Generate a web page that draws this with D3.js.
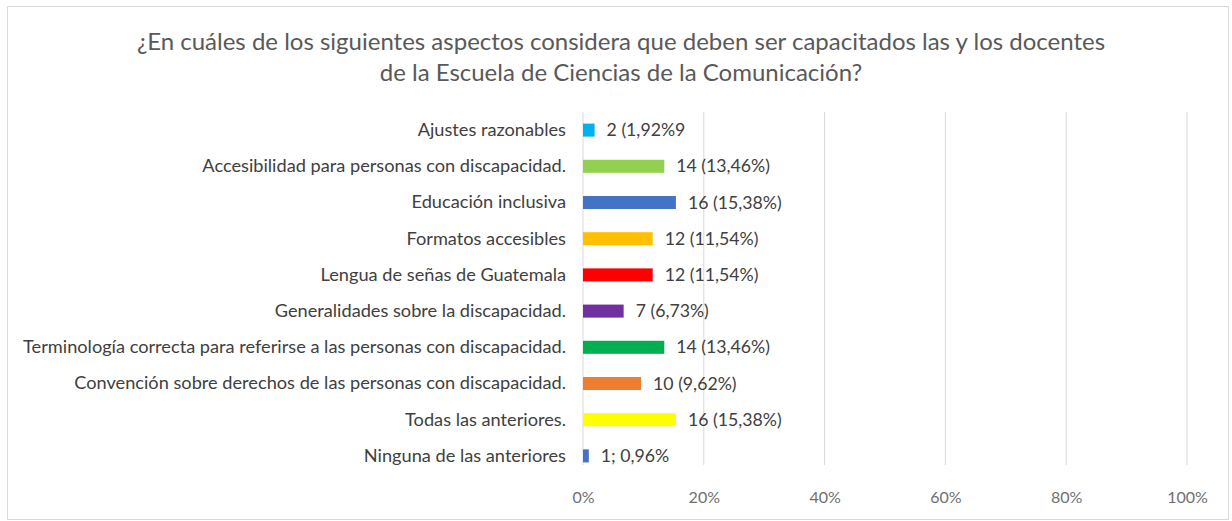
<!DOCTYPE html>
<html><head><meta charset="utf-8">
<script src="https://cdn.jsdelivr.net/npm/d3@7"></script>
<style>body{margin:0;background:#fff;} svg{display:block;font-family:Lato,"Open Sans",sans-serif;}</style>
</head><body>
<svg id="c" width="1232" height="521"></svg>
<script>
const categories = ["Ajustes razonables","Accesibilidad para personas con discapacidad.","Educación inclusiva","Formatos accesibles","Lengua de señas de Guatemala","Generalidades sobre la discapacidad.","Terminología correcta para referirse a las personas con discapacidad.","Convención sobre derechos de las personas con discapacidad.","Todas las anteriores.","Ninguna de las anteriores"];
const counts = [2,14,16,12,12,7,14,10,16,1];
const percents = [1.92,13.46,15.38,11.54,11.54,6.73,13.46,9.62,15.38,0.96];
const valueLabels = ["2 (1,92%9","14 (13,46%)","16 (15,38%)","12 (11,54%)","12 (11,54%)","7 (6,73%)","14 (13,46%)","10 (9,62%)","16 (15,38%)","1; 0,96%"];
const colors = ["#00B0F0","#92D050","#4472C4","#FFC000","#FF0000","#7030A0","#00B050","#ED7D31","#FFFF00","#4472C4"];
const tickValues = [0,20,40,60,80,100];
const titleLines = ["¿En cuáles de los siguientes aspectos considera que deben ser capacitados las y los docentes","de la Escuela de Ciencias de la Comunicación?"];

const svg = d3.select("#c");
svg.append("rect").attr("x",7.5).attr("y",6.5).attr("width",1221).attr("height",513)
  .attr("fill","#fff").attr("stroke","#d9d9d9");

const x = d3.scaleLinear().domain([0,100]).range([583,1187]);
const y = d3.scaleBand().domain(categories).range([112,474]).paddingInner(0.64).paddingOuter(0.32);

// gridlines
svg.append("g").selectAll("line").data(tickValues).join("line")
  .attr("x1",d=>x(d)).attr("x2",d=>x(d)).attr("y1",112).attr("y2",465)
  .attr("stroke","#d9d9d9").attr("stroke-width",1);

// x axis labels
const xAxis = d3.axisBottom(x).tickValues(tickValues).tickFormat(d=>d+"%").tickSize(0).tickPadding(0);
const gx = svg.append("g").attr("transform","translate(0,492)").call(xAxis);
gx.select(".domain").remove();
gx.selectAll("text").attr("font-size",16).attr("fill","#6f6f6f").attr("font-family","Lato,sans-serif");

// category labels
const yAxis = d3.axisLeft(y).tickSize(0).tickPadding(0);
const gy = svg.append("g").attr("transform","translate(566,0)").call(yAxis);
gy.select(".domain").remove();
gy.selectAll("text").attr("font-size",18.2).attr("fill","#404040").attr("font-family","Lato,sans-serif");

// bars
svg.append("g").selectAll("rect").data(categories).join("rect")
  .attr("x",x(0)).attr("y",d=>y(d)).attr("height",y.bandwidth())
  .attr("width",(d,i)=>x(percents[i])-x(0)).attr("fill",(d,i)=>colors[i]);

// value labels
svg.append("g").selectAll("text").data(categories).join("text")
  .attr("x",(d,i)=>x(percents[i])+12).attr("y",d=>y(d)+y.bandwidth()/2).attr("dy","0.35em")
  .attr("font-size",17.7).attr("fill","#404040")
  .text((d,i)=>valueLabels[i]);

// title
svg.append("g").selectAll("text").data(titleLines).join("text")
  .attr("x",621).attr("y",(d,i)=>50+i*31).attr("text-anchor","middle")
  .attr("font-size",24).attr("fill","#595959").text(d=>d);
</script>
</body></html>
